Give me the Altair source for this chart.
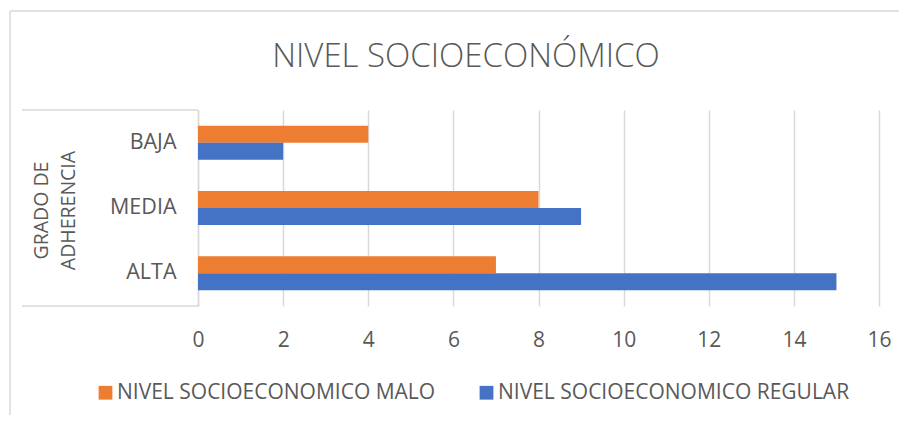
import altair as alt
import pandas as pd

# ---- data ----
categories = ["BAJA", "MEDIA", "ALTA"]
series = ["NIVEL SOCIOECONOMICO MALO", "NIVEL SOCIOECONOMICO REGULAR"]
malo = [4, 8, 7]
regular = [2, 9, 15]
x_ticks = [0, 2, 4, 6, 8, 10, 12, 14, 16]
title_text = "NIVEL SOCIOECONÓMICO"
y_title = ["GRADO DE", "ADHERENCIA"]
colors = ["#ED7D31", "#4472C4"]

rows = []
for c, m, r in zip(categories, malo, regular):
    rows.append({"grado": c, "serie": series[0], "valor": m})
    rows.append({"grado": c, "serie": series[1], "valor": r})
df = pd.DataFrame(rows)

FONT = "Open Sans"
TXT = "#595959"
GRID = "#d9d9d9"
W, H = 681, 196
PAD_L, PAD_T, PAD_R, PAD_B = 190, 102, 20, 109

bars = alt.Chart(df).mark_bar().encode(
    x=alt.X(
        "valor:Q",
        scale=alt.Scale(domain=[0, 16], nice=False),
        axis=alt.Axis(
            values=x_ticks, grid=True, gridColor=GRID, gridWidth=1.5,
            domain=False, ticks=False, tickSize=0, labelPadding=23,
            labelFlush=False, labelOverlap=False,
            labelFont=FONT, labelFontSize=21, labelColor=TXT, title=None,
        ),
    ),
    y=alt.Y(
        "grado:N",
        sort=categories,
        scale=alt.Scale(paddingInner=0.48, paddingOuter=0.24),
        axis=alt.Axis(
            domain=True, domainColor=GRID, domainWidth=1.5,
            ticks=False, tickSize=0, labelPadding=22,
            labelFont=FONT, labelFontSize=21.5, labelColor=TXT,
            title=y_title, titleFont=FONT, titleFontSize=19.5,
            titleFontWeight="normal", titleColor=TXT,
            titleAngle=270, titleAlign="center", titleBaseline="top",
            titleX=-166, titleY=100, titleLineHeight=27,
        ),
    ),
    yOffset=alt.YOffset("serie:N", sort=series,
                        scale=alt.Scale(paddingInner=0, paddingOuter=0)),
    color=alt.Color(
        "serie:N",
        sort=series,
        scale=alt.Scale(domain=series, range=colors),
        legend=alt.Legend(
            orient="none", legendX=-103, legendY=272, direction="horizontal",
            title=None, symbolType="square", symbolSize=190,
            symbolStrokeWidth=0, labelFont=FONT, labelFontSize=21,
            labelColor=TXT, columnPadding=40, labelOffset=1, labelLimit=600,
        ),
    ),
)

dummy = pd.DataFrame({"a": [0]})
rule = alt.Chart(dummy).mark_rule(color=GRID, strokeWidth=1.5)
border_left = rule.encode(x=alt.value(-188), y=alt.value(-99), y2=alt.value(H + PAD_B))
border_top = rule.encode(x=alt.value(-188), x2=alt.value(W + PAD_R), y=alt.value(-99))
box_top = rule.encode(x=alt.value(-176), x2=alt.value(0), y=alt.value(0))
box_bottom = rule.encode(x=alt.value(-176), x2=alt.value(0), y=alt.value(H))

title = alt.Chart(pd.DataFrame({"t": [title_text]})).mark_text(
    font=FONT, fontSize=33, fontWeight=300, color=TXT, align="center",
    baseline="alphabetic"
).encode(text="t:N", x=alt.value(466 - 198), y=alt.value(67 - 110))

chart = alt.layer(
    border_left, border_top, box_top, box_bottom, bars, title
).properties(
    width=W, height=H, autosize="none",
    padding={"left": PAD_L, "top": PAD_T, "right": PAD_R, "bottom": PAD_B},
).configure_view(stroke=None)

chart.save("out.html", embed_options={"renderer": "svg", "actions": False})
